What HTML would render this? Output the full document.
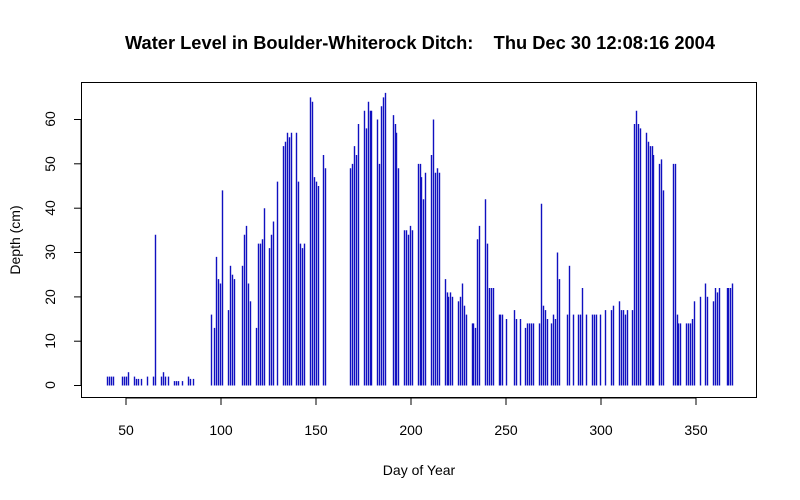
<!DOCTYPE html>
<html><head><style>body{margin:0;background:#fff}svg{display:block}text{font-family:"Liberation Sans",Arial,sans-serif;fill:#000}</style></head>
<body>
<svg id="s" width="800" height="500" xmlns="http://www.w3.org/2000/svg">
<rect width="800" height="500" fill="#fff"/>
<text x="420" y="49" font-size="18" font-weight="bold" text-anchor="middle" style="white-space:pre" xml:space="preserve" textLength="590" lengthAdjust="spacingAndGlyphs">Water Level in Boulder-Whiterock Ditch:    Thu Dec 30 12:08:16 2004</text>
<rect x="81.5" y="82.5" width="675" height="315" fill="none" stroke="#000" stroke-width="1"/>
<g stroke="#000" stroke-width="1">
<line x1="126" y1="398" x2="696" y2="398"/>
<line x1="126" y1="398" x2="126" y2="405"/><line x1="221" y1="398" x2="221" y2="405"/><line x1="316" y1="398" x2="316" y2="405"/><line x1="411" y1="398" x2="411" y2="405"/><line x1="506" y1="398" x2="506" y2="405"/><line x1="601" y1="398" x2="601" y2="405"/><line x1="696" y1="398" x2="696" y2="405"/>
<line x1="81" y1="385" x2="81" y2="119"/>
<line x1="74" y1="385.5" x2="81" y2="385.5"/><line x1="74" y1="341.2" x2="81" y2="341.2"/><line x1="74" y1="296.9" x2="81" y2="296.9"/><line x1="74" y1="252.5" x2="81" y2="252.5"/><line x1="74" y1="208.2" x2="81" y2="208.2"/><line x1="74" y1="163.8" x2="81" y2="163.8"/><line x1="74" y1="119.5" x2="81" y2="119.5"/>
</g>
<g font-size="14" text-anchor="middle">
<text x="126" y="435">50</text><text x="221" y="435">100</text><text x="316" y="435">150</text><text x="411" y="435">200</text><text x="506" y="435">250</text><text x="601" y="435">300</text><text x="696" y="435">350</text>
<text transform="translate(55,385) rotate(-90)">0</text>
<text transform="translate(55,341) rotate(-90)">10</text>
<text transform="translate(55,297) rotate(-90)">20</text>
<text transform="translate(55,252) rotate(-90)">30</text>
<text transform="translate(55,208) rotate(-90)">40</text>
<text transform="translate(55,164) rotate(-90)">50</text>
<text transform="translate(55,119) rotate(-90)">60</text>
<text x="419" y="475">Day of Year</text>
<text transform="translate(20,240) rotate(-90)">Depth (cm)</text>
</g>
<g id="bars" stroke="#1010c0" stroke-width="1.4"></g>
</svg>
<script>
var d=[107,2,109,2,111,2,113,2,122,2,124,2,126,2,128,3,134,2,136,1.5,138,1.5,141,1.5,147,2,153,2,155,34,161,2,163,3,165,2,168,2,174,1,176,1,178,1,182,1,188,2,190,1.5,193,1.5,
211.3,16,214.3,13,216.3,29,218.3,24,220.3,23,222.3,44,228.3,17,230.3,27,232.3,25,234.3,24,241.7,27,243.7,34,245.7,36,247.7,23,249.7,19,255.7,13,257.7,32,259.7,32,261.7,33,263.7,40,268.7,31,270.7,34,272.7,37,276.7,46,282.7,54,284.7,55,286.7,57,288.7,56,290.7,57,295.7,57,297.7,46,299.7,32,301.7,31,303.7,32,309.7,65,311.7,64,313.7,47,315.7,46,317.7,45,322.7,52,324.7,49,
349.7,49,351.7,50,353.7,54,355.7,52,357.7,59,363.7,62,365.7,58,367.7,64,369.7,62,370.7,62,376.7,60,378.7,50,380.7,63,382.7,65,384.7,66,392.7,61,394.7,59,395.7,57,397.7,49,403.7,35,405.7,35,407.7,34,409.7,36,411.7,35,417.7,50,419.7,50,420.7,47,422.7,42,424.7,48,430.7,52,432.7,60,434.7,48,436.7,49,438.7,48,444.7,24,446.7,21,447.7,20,449.7,21,451.7,20,457.7,19,459.7,20,461.7,23,463.7,18,465.7,16,471.7,14,472.7,14,474.7,13,476.7,33,478.7,36,484.7,42,486.7,32,488.7,22,490.7,22,492.7,22,498.7,16,499.7,16,501.7,16,505.7,15,513.7,17,515.7,15,519.7,15,524.7,13,526.7,14,528.7,14,530.7,14,532.7,14,538.7,14,540.7,41,542.5,18,544.5,17,546.5,15,
551.3,14,553.3,16,555.3,15,557.3,30,559.3,24,567.3,16,569.3,27,573.3,16,578.3,16,580.3,16,582.3,22,586.3,16,592.3,16,594.3,16,596.3,16,600.3,16,605.3,17,611.3,17,613.3,18,619.3,19,621.3,17,623.3,17,625.3,16,627.3,17,632.3,17,634.3,59,636.3,62,638.3,59,640.3,58,646.3,57,648.3,55,650.3,54,652.3,54,653.3,52,659.3,50,661.3,51,663.3,44,673.3,50,675.3,50,677.3,16,678.3,14,680.3,14,686.3,14,688.3,14,690.3,14,692.3,15,694.3,19,700.3,20,705.3,23,707.3,20,713.3,19,715.3,22,717.3,21,719.3,22,727.3,22,728.3,22,730.3,22,732.3,23];
var g=document.getElementById('bars'),h='';
for(var i=0;i<d.length;i+=2){var x=Math.round(d[i])+0.5,y=385.5-d[i+1]*4.433;h+='<line x1="'+x+'" y1="385.5" x2="'+x+'" y2="'+y.toFixed(1)+'"/>';}
g.innerHTML=h;
</script>
</body></html>
